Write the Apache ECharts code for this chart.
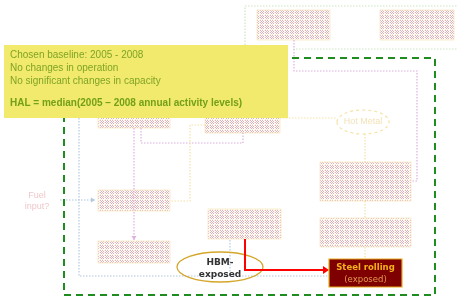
<!DOCTYPE html>
<html>
<head>
<meta charset="utf-8">
<script src="https://cdn.jsdelivr.net/npm/echarts@6/dist/echarts.min.js"></script>
<style>
  html, body { margin: 0; padding: 0; background: #fff; }
  #chart { width: 457px; height: 298px; }
</style>
</head>
<body>
<div id="chart"></div>
<script>
// texts of the diagram
let baselineLines = ['Chosen baseline: 2005 - 2008', 'No changes in operation', 'No significant changes in capacity'];
let halLine = 'HAL = median(2005 \u2013 2008 annual activity levels)';
let hbmLabel = ['HBM-', 'exposed'];
let steelLabel = ['Steel rolling', '(exposed)'];
let fuelLabel = ['Fuel', 'input?'];
let hotMetalLabel = 'Hot Metal';

// faded process boxes [x, y, w, h] in diagram units
let hatchBoxes = [
	[257, 10, 73, 30], [380, 10, 74, 30],
	[98, 104, 72, 24], [205, 104, 75, 29],
	[98, 190, 72, 21], [98, 241, 72, 22],
	[208, 209, 73, 30],
	[320, 162, 91, 39], [320, 218, 91, 29]
];

// faded connectors: points + colour
let connectors = [
	{ pts: [[79, 118], [79, 276], [330, 276]], color: '#b4c8e2' },
	{ pts: [[60, 200], [95, 200]], color: '#b4c8e2', arrow: true },
	{ pts: [[230, 240], [230, 276]], color: '#b4c8e2' },
	{ pts: [[134, 128], [134, 240]], color: '#dcb0e0', arrow: true },
	{ pts: [[141, 128], [141, 143], [243, 143], [243, 133]], color: '#dcb0e0' },
	{ pts: [[294, 40], [294, 71], [417, 71], [417, 181], [411, 181]], color: '#dcb0e0' },
	{ pts: [[205, 125], [190, 125], [190, 201], [170, 201]], color: '#f5e2a6' },
	{ pts: [[280, 118], [336, 118]], color: '#f5e2a6' },
	{ pts: [[365, 134], [365, 162]], color: '#f5e2a6' },
	{ pts: [[365, 201], [365, 218]], color: '#f5e2a6' },
	{ pts: [[365, 247], [365, 259]], color: '#f5e2a6' },
	{ pts: [[245, 45], [245, 6], [457, 6]], color: '#cde6c4' },
	{ pts: [[293, 49], [457, 49]], color: '#cde6c4' }
];

function makeHatch() {
	let c = document.createElement('canvas');
	c.width = 5;
	c.height = 5;
	let g = c.getContext('2d');
	g.fillStyle = '#ffffff';
	g.fillRect(0, 0, 5, 5);
	g.fillStyle = 'rgba(200,110,130,0.55)';
	[[0, 0], [2, 0], [1, 1], [3, 1], [0, 2], [2, 2], [1, 3], [3, 3]].forEach(p => g.fillRect(p[0], p[1], 1, 1));
	g.fillStyle = 'rgba(240,200,120,0.35)';
	[[4, 0], [4, 2], [0, 4], [2, 4]].forEach(p => g.fillRect(p[0], p[1], 1, 1));
	return c;
}
let HATCH = makeHatch();

let myChart = echarts.init(document.getElementById('chart'));

function pt(api, p) {
	return api.coord(p);
}

option = {
	animation: false,
	grid: { left: 0, right: 0, top: 0, bottom: 0 },
	xAxis: { type: 'value', min: 0, max: 457, show: false },
	yAxis: { type: 'value', min: 0, max: 298, inverse: true, show: false },
	series: [
		{
			// faded hatched boxes
			type: 'custom',
			z: 1,
			data: hatchBoxes,
			renderItem: function (params, api) {
				let b = hatchBoxes[params.dataIndex];
				let p0 = pt(api, [b[0], b[1]]);
				let p1 = pt(api, [b[0] + b[2], b[1] + b[3]]);
				return {
					type: 'rect',
					shape: { x: p0[0], y: p0[1], width: p1[0] - p0[0], height: p1[1] - p0[1] },
					style: { fill: { image: HATCH, repeat: 'repeat' }, stroke: '#f8e8c4', lineWidth: 0.8 }
				};
			}
		},
		{
			// faded connectors
			type: 'custom',
			z: 2,
			data: connectors.map((c, i) => [i]),
			renderItem: function (params, api) {
				let c = connectors[params.dataIndex];
				let pts = c.pts.map(p => pt(api, p));
				let children = [{
					type: 'polyline',
					shape: { points: pts },
					style: { stroke: c.color, lineWidth: 1.2, lineDash: [1.5, 1.5], fill: null }
				}];
				if (c.arrow) {
					let a = pts[pts.length - 1];
					let b = pts[pts.length - 2];
					let dx = a[0] - b[0], dy = a[1] - b[1];
					let l = Math.sqrt(dx * dx + dy * dy);
					dx /= l; dy /= l;
					children.push({
						type: 'polygon',
						shape: { points: [a, [a[0] - dx * 4 - dy * 2.5, a[1] - dy * 4 + dx * 2.5], [a[0] - dx * 4 + dy * 2.5, a[1] - dy * 4 - dx * 2.5]] },
						style: { fill: c.color }
					});
				}
				return { type: 'group', children: children };
			}
		},
		{
			// faded hot metal ellipse + fuel text
			type: 'custom',
			z: 2,
			data: [[363, 122]],
			renderItem: function (params, api) {
				let c = pt(api, [363, 122]);
				let f = pt(api, [37, 201]);
				return {
					type: 'group',
					children: [
						{ type: 'ellipse', shape: { cx: c[0], cy: c[1], rx: 26, ry: 12 },
							style: { fill: null, stroke: '#f5e2a6', lineWidth: 1.2, lineDash: [3, 3] } },
						{ type: 'text', x: c[0], y: c[1],
							style: { text: hotMetalLabel, fill: '#f3e2b8', font: '9px "Liberation Sans", Arial', align: 'center', verticalAlign: 'middle' } },
						{ type: 'text', x: f[0], y: f[1],
							style: { text: fuelLabel.join('\n'), fill: '#efc8cc', font: '9px "Liberation Sans", Arial', align: 'center', verticalAlign: 'middle', lineHeight: 11 } }
					]
				};
			}
		},
		{
			// green dashed system boundary
			type: 'custom',
			z: 3,
			data: [[64, 58]],
			renderItem: function (params, api) {
				let p0 = pt(api, [64, 58]);
				let p1 = pt(api, [435, 295]);
				return {
					type: 'rect',
					shape: { x: p0[0], y: p0[1], width: p1[0] - p0[0], height: p1[1] - p0[1] },
					style: { fill: null, stroke: '#1e8c1e', lineWidth: 2, lineDash: [7, 5] }
				};
			}
		},
		{
			// yellow baseline note
			type: 'custom',
			z: 4,
			data: [[4, 45]],
			renderItem: function (params, api) {
				let p0 = pt(api, [4, 45]);
				let p1 = pt(api, [288, 118]);
				let children = [{
					type: 'rect',
					shape: { x: p0[0], y: p0[1], width: p1[0] - p0[0], height: p1[1] - p0[1] },
					style: { fill: '#f2ea6c' }
				}];
				baselineLines.forEach((t, i) => {
					children.push({
						type: 'text', x: p0[0] + 6, y: p0[1] + 10 + i * 13,
						style: { text: t, fill: '#7ea426', font: '10px "Liberation Sans", Arial', verticalAlign: 'middle' }
					});
				});
				children.push({
					type: 'text', x: p0[0] + 6, y: p0[1] + 58,
					style: { text: halLine, fill: '#72a018', font: 'bold 10px "Liberation Sans", Arial', verticalAlign: 'middle' }
				});
				return { type: 'group', children: children };
			}
		},
		{
			// HBM ellipse, red arrow, steel rolling box
			type: 'custom',
			z: 5,
			data: [[220, 267]],
			renderItem: function (params, api) {
				let e = pt(api, [220, 267]);
				let r0 = pt(api, [245, 239]);
				let r1 = pt(api, [245, 270]);
				let r2 = pt(api, [323, 270]);
				let s0 = pt(api, [329, 259]);
				let s1 = pt(api, [402, 287]);
				return {
					type: 'group',
					children: [
						{ type: 'ellipse', shape: { cx: e[0], cy: e[1], rx: 43, ry: 15 },
							style: { fill: null, stroke: '#d4a62a', lineWidth: 1.3 } },
						{ type: 'text', x: e[0], y: e[1] - 4,
							style: { text: hbmLabel[0], fill: '#333', font: 'bold 9px "DejaVu Sans", Verdana', align: 'center', verticalAlign: 'middle' } },
						{ type: 'text', x: e[0], y: e[1] + 8,
							style: { text: hbmLabel[1], fill: '#333', font: 'bold 9px "DejaVu Sans", Verdana', align: 'center', verticalAlign: 'middle' } },
						{ type: 'polyline', shape: { points: [r0, r1, r2] },
							style: { stroke: '#ff0000', lineWidth: 2, fill: null } },
						{ type: 'polygon', shape: { points: [[s0[0], r2[1]], [r2[0], r2[1] - 4], [r2[0], r2[1] + 4]] },
							style: { fill: '#ff0000' } },
						{ type: 'rect', shape: { x: s0[0], y: s0[1], width: s1[0] - s0[0], height: s1[1] - s0[1] },
							style: { fill: '#7f0000', stroke: '#e8a81c', lineWidth: 1.2 } },
						{ type: 'text', x: (s0[0] + s1[0]) / 2, y: s0[1] + 9,
							style: { text: steelLabel[0], fill: '#f2b21c', font: 'bold 8.5px "DejaVu Sans", Verdana', align: 'center', verticalAlign: 'middle' } },
						{ type: 'text', x: (s0[0] + s1[0]) / 2, y: s0[1] + 21,
							style: { text: steelLabel[1], fill: '#e39a4e', font: '8.5px "DejaVu Sans", Verdana', align: 'center', verticalAlign: 'middle' } }
					]
				};
			}
		}
	]
};

myChart.setOption(option);
</script>
</body>
</html>
